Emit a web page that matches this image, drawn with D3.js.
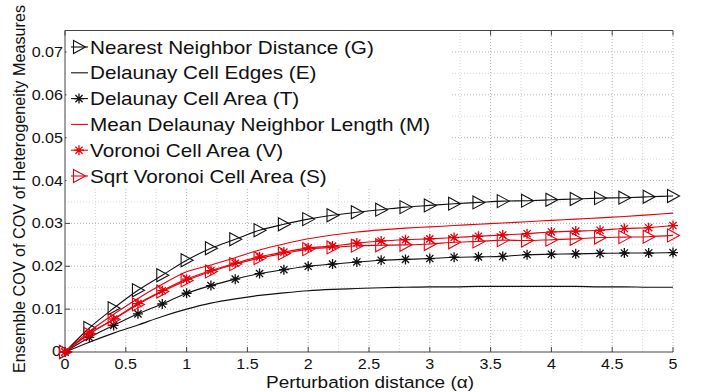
<!DOCTYPE html>
<html>
<head>
<meta charset="utf-8">
<script src="https://cdn.jsdelivr.net/npm/d3@7"></script>
<style>
  body { margin: 0; background: #fff; }
  text { font-family: "Liberation Sans", Arial, sans-serif; fill: #111; }
</style>
</head>
<body>
<script>
// perturbation distance (alpha)
var alpha = [0, 0.2, 0.4, 0.6, 0.8, 1.0, 1.2, 1.4, 1.6, 1.8, 2.0, 2.2, 2.4,
  2.6, 2.8, 3.0, 3.2, 3.4, 3.6, 3.8, 4.0, 4.2, 4.4, 4.6, 4.8, 5.0];

// ensemble COV values
var nearestNeighbor = [0, 0.0056, 0.0102, 0.0144, 0.0179, 0.0214, 0.0242, 0.0263, 0.0284,
  0.0298, 0.0310, 0.0319, 0.0326, 0.0332, 0.0338, 0.0342, 0.0346, 0.0349, 0.0352,
  0.0353, 0.0355, 0.0357, 0.0359, 0.0360, 0.0362, 0.0364];
var delaunayEdges = [0, 0.0023, 0.0044, 0.0063, 0.0083, 0.0100, 0.0114, 0.0124, 0.0132,
  0.0138, 0.0143, 0.0146, 0.0148, 0.0150, 0.0151, 0.0152, 0.0152, 0.0153, 0.0153,
  0.0153, 0.0153, 0.0153, 0.0152, 0.0152, 0.0151, 0.0151];
var delaunayArea = [0, 0.0034, 0.0062, 0.0089, 0.0112, 0.0137, 0.0155, 0.0170, 0.0183,
  0.0192, 0.0200, 0.0205, 0.0210, 0.0214, 0.0216, 0.0218, 0.0221, 0.0222, 0.0223,
  0.0227, 0.0228, 0.0229, 0.0230, 0.0231, 0.0231, 0.0232];
var meanNeighborLen = [0, 0.0048, 0.0088, 0.0125, 0.0158, 0.0187, 0.0203, 0.0220, 0.0238,
  0.0252, 0.0264, 0.0273, 0.0280, 0.0285, 0.0289, 0.0292, 0.0295, 0.0298, 0.0301,
  0.0304, 0.0307, 0.0310, 0.0313, 0.0316, 0.0320, 0.0324];
var voronoiArea = [0, 0.0043, 0.0077, 0.0113, 0.0143, 0.0170, 0.0190, 0.0207, 0.0222,
  0.0233, 0.0243, 0.0247, 0.0254, 0.0259, 0.0262, 0.0264, 0.0267, 0.0270, 0.0273,
  0.0276, 0.0280, 0.0282, 0.0284, 0.0288, 0.0290, 0.0295];
var sqrtVoronoiArea = [0, 0.0042, 0.0076, 0.0111, 0.0141, 0.0167, 0.0188, 0.0205, 0.0219,
  0.0230, 0.0240, 0.0244, 0.0248, 0.0249, 0.0250, 0.0252, 0.0256, 0.0258, 0.0261,
  0.0260, 0.0262, 0.0264, 0.0267, 0.0268, 0.0269, 0.0272];

var xTicks = [0, 0.5, 1, 1.5, 2, 2.5, 3, 3.5, 4, 4.5, 5];
var yTicks = [0, 0.01, 0.02, 0.03, 0.04, 0.05, 0.06, 0.07];

var red = '#e8000b';
var series = [
  {name: 'Nearest Neighbor Distance (G)', vals: nearestNeighbor, color: '#111', marker: 'tri'},
  {name: 'Delaunay Cell Edges (E)', vals: delaunayEdges, color: '#111', marker: null},
  {name: 'Delaunay Cell Area (T)', vals: delaunayArea, color: '#111', marker: 'star'},
  {name: 'Mean Delaunay Neighbor Length (M)', vals: meanNeighborLen, color: red, marker: null},
  {name: 'Voronoi Cell Area (V)', vals: voronoiArea, color: red, marker: 'star'},
  {name: 'Sqrt Voronoi Cell Area (S)', vals: sqrtVoronoiArea, color: red, marker: 'tri'}
];

var W = 702, H = 392;
var svg = d3.select('body').append('svg').attr('width', W).attr('height', H);

var x = d3.scaleLinear().domain([0, 5]).range([65, 673]);
var y = d3.scaleLinear().domain([0, 0.075]).range([352, 30.5]);

// image is a bit wider than tall, so text gets stretched sideways
var SX = 1.15;
function stext(parent, px, py, str, size, anchor) {
  return parent.append('g')
    .attr('transform', 'translate(' + px + ',' + py + ') scale(' + SX + ',1)')
    .append('text')
    .attr('font-size', size)
    .attr('text-anchor', anchor || 'start')
    .text(str);
}

// grid (minor + major, dotted)
var grid = svg.append('g');
d3.range(0.25, 5.01, 0.25).forEach(function(v) {
  grid.append('line').attr('x1', x(v)).attr('x2', x(v)).attr('y1', y(0)).attr('y2', y(0.075))
    .attr('stroke', v % 0.5 === 0 ? '#b5b5b5' : '#d5d5d5').attr('stroke-dasharray', '1,2');
});
d3.range(0.005, 0.0751, 0.005).forEach(function(v, i) {
  grid.append('line').attr('x1', x(0)).attr('x2', x(5)).attr('y1', y(v)).attr('y2', y(v))
    .attr('stroke', i % 2 === 1 ? '#b5b5b5' : '#d5d5d5').attr('stroke-dasharray', '1,2');
});

// axes frame: left, bottom, top
var ax = svg.append('g').attr('stroke', '#444').attr('stroke-width', 1);
ax.append('line').attr('x1', x(0)).attr('x2', x(0)).attr('y1', y(0)).attr('y2', y(0.075));
ax.append('line').attr('x1', x(0)).attr('x2', x(5)).attr('y1', y(0)).attr('y2', y(0));
ax.append('line').attr('x1', x(0)).attr('x2', x(5)).attr('y1', y(0.075)).attr('y2', y(0.075));
xTicks.forEach(function(t) {
  ax.append('line').attr('x1', x(t)).attr('x2', x(t)).attr('y1', y(0)).attr('y2', y(0) - 5);
  ax.append('line').attr('x1', x(t)).attr('x2', x(t)).attr('y1', y(0.075)).attr('y2', y(0.075) + 5);
});
yTicks.forEach(function(t) {
  ax.append('line').attr('x1', x(0)).attr('x2', x(0) + 5).attr('y1', y(t)).attr('y2', y(t));
});

// tick labels
xTicks.forEach(function(t) {
  stext(svg, x(t), 368.5, String(t), 14, 'middle');
});
yTicks.forEach(function(t) {
  stext(svg, t === 0 ? 61 : 63, y(t) + (t === 0 ? 3.5 : 5), String(t), 14, 'end');
});

// axis titles
stext(svg, 370, 387.5, 'Perturbation distance (\u03b1)', 16.5, 'middle');
svg.append('text')
  .attr('transform', 'translate(25,189) rotate(-90)')
  .attr('font-size', 16.2)
  .attr('text-anchor', 'middle')
  .text('Ensemble COV of COV of Heterogeneity Measures');

// markers
function drawMarker(g, type, cx, cy, color) {
  if (type === 'tri') {
    g.append('path')
      .attr('d', 'M' + (cx - 5.5) + ',' + (cy - 6.5) + 'L' + (cx + 6.5) + ',' + cy +
        'L' + (cx - 5.5) + ',' + (cy + 6.5) + 'Z')
      .attr('fill', 'none').attr('stroke', color).attr('stroke-width', 1.1);
  } else if (type === 'star') {
    var r = 5, d = 3.6;
    g.append('path')
      .attr('d', 'M' + (cx - r) + ',' + cy + 'H' + (cx + r) +
        'M' + cx + ',' + (cy - r) + 'V' + (cy + r) +
        'M' + (cx - d) + ',' + (cy - d) + 'L' + (cx + d) + ',' + (cy + d) +
        'M' + (cx - d) + ',' + (cy + d) + 'L' + (cx + d) + ',' + (cy - d))
      .attr('stroke', color).attr('stroke-width', 1.3);
  }
}

var line = d3.line().x(function(d) { return x(d[0]); }).y(function(d) { return y(d[1]); })
  .curve(d3.curveMonotoneX);

series.forEach(function(s) {
  var pts = alpha.map(function(a, i) { return [a, s.vals[i]]; });
  var g = svg.append('g');
  g.append('path').datum(pts).attr('d', line)
    .attr('fill', 'none').attr('stroke', s.color).attr('stroke-width', 1.1);
  if (s.marker) {
    pts.forEach(function(p) { drawMarker(g, s.marker, x(p[0]), y(p[1]), s.color); });
  }
});

// legend (white box, no border)
var leg = svg.append('g');
leg.append('rect').attr('x', 66.5).attr('y', 31).attr('width', 384).attr('height', 157)
  .attr('fill', '#fff');
series.forEach(function(s, i) {
  var cy = 47 + i * 25.8;
  leg.append('line').attr('x1', 71).attr('x2', 88).attr('y1', cy).attr('y2', cy)
    .attr('stroke', s.color).attr('stroke-width', 1.1);
  if (s.marker) drawMarker(leg, s.marker, 79, cy, s.color);
  stext(leg, 90, cy + 6.5, s.name, 18, 'start');
});
</script>
</body>
</html>
